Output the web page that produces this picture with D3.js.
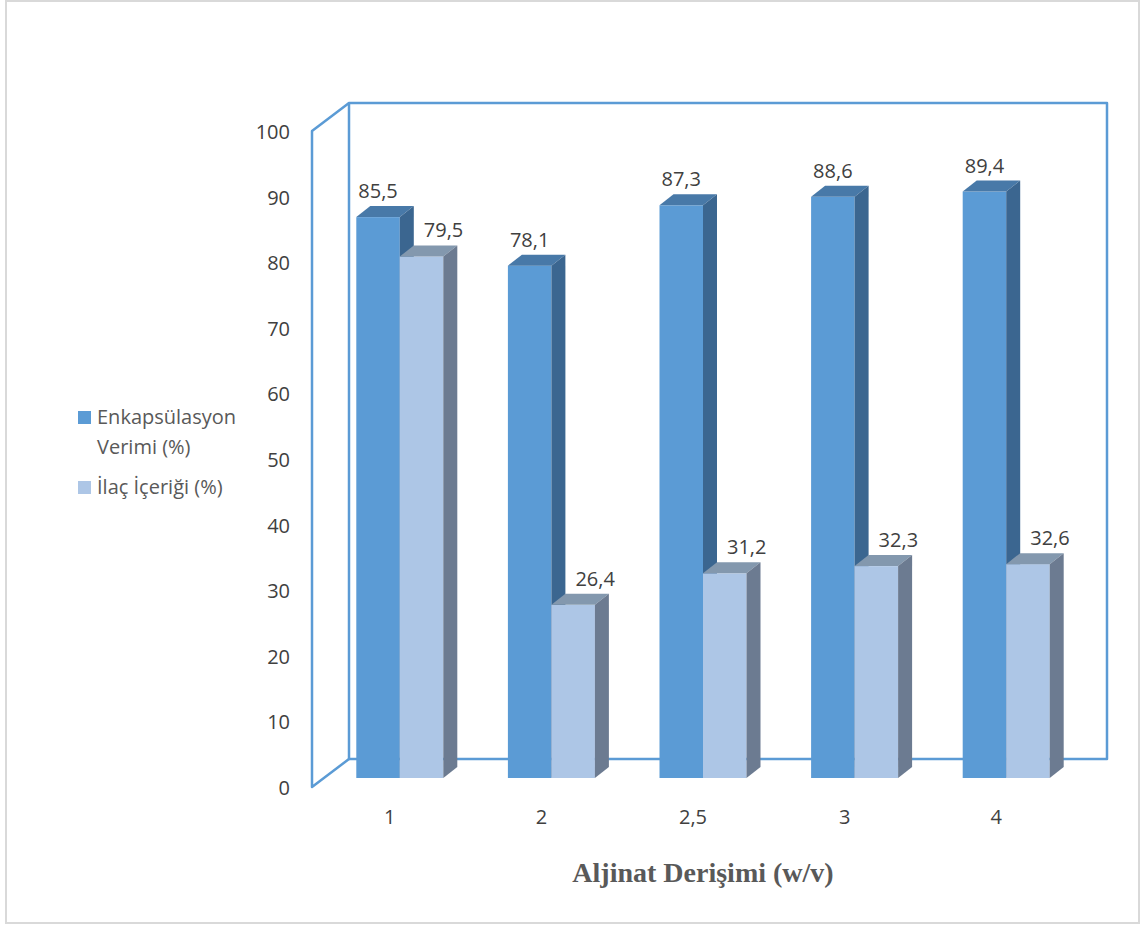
<!DOCTYPE html>
<html>
<head>
<meta charset="utf-8">
<script src="https://cdn.jsdelivr.net/npm/d3@7"></script>
<style>
  body { margin: 0; background: #fff; }
  svg text { font-family: "Open Sans", "DejaVu Sans", sans-serif; }
</style>
</head>
<body>
<div id="chart"></div>
<script>
// data
const categories = ["1", "2", "2,5", "3", "4"]
const enkapsulasyon = [85.5, 78.1, 87.3, 88.6, 89.4]   // Enkapsülasyon Verimi (%)
const ilacIcerigi = [79.5, 26.4, 31.2, 32.3, 32.6]     // İlaç İçeriği (%)
const yTicks = [0, 10, 20, 30, 40, 50, 60, 70, 80, 90, 100]
const seriesNames = ["Enkapsülasyon\nVerimi (%)", "İlaç İçeriği (%)"]
const xTitle = "Aljinat Derişimi (w/v)"

const width = 1147
const height = 927
const fontSize = 20

// back wall of the 3d box
const backLeft = 349
const backRight = 1107
const backZero = 759
const backTop = 103
// offsets of the front plane and the bar plane from the back wall
const frontDx = -37, frontDy = 28
const barDx = -25, barDy = 19
const barWidth = 43.5
const depthDx = 14, depthDy = -11   // bar thickness

const palette = [
    {front: "#5b9bd5", top: "#4879a8", side: "#3b6690"},
    {front: "#adc6e6", top: "#8398ae", side: "#6c7b91"}
]
const wallColor = "#5b9bd5"
const textColor = "#404040"

const svg = d3.select("#chart")
    .append("svg")
    .attr("width", width)
    .attr("height", height)
    .attr("viewBox", [0, 0, width, height])

// outer frame
svg.append("rect")
    .attr("x", 6).attr("y", 1)
    .attr("width", 1133).attr("height", 922)
    .attr("fill", "none")
    .attr("stroke", "#d9d9d9")
    .attr("stroke-width", 2)

// scales
const yBack = d3.scaleLinear([0, 100], [backZero, backTop])
const yFront = d3.scaleLinear([0, 100], [backZero + frontDy, backTop + frontDy])
const yBar = d3.scaleLinear([0, 100], [backZero + barDy, backTop + barDy])
const xBar = d3.scaleBand(categories, [backLeft + barDx, backRight + barDx])
const xFront = d3.scaleBand(categories, [backLeft + frontDx, backRight + frontDx])

// walls
const walls = svg.append("g")
    .attr("fill", "none")
    .attr("stroke", wallColor)
    .attr("stroke-width", 2.5)
    .attr("stroke-linejoin", "round")

walls.append("rect")
    .attr("x", backLeft).attr("y", yBack(100))
    .attr("width", backRight - backLeft)
    .attr("height", yBack(0) - yBack(100))

walls.append("path")
    .attr("d", d3.line()([
        [backLeft, yBack(100)],
        [backLeft + frontDx, yFront(100)],
        [backLeft + frontDx, yFront(0)],
        [backLeft, yBack(0)]
    ]))

// y axis
svg.append("g")
    .attr("transform", `translate(${backLeft + frontDx - 19},1)`)
    .call(d3.axisLeft(yFront).tickValues(yTicks).tickSize(0).tickFormat(d3.format("d")))
    .call(g => g.select(".domain").remove())
    .call(g => g.selectAll("text")
        .attr("fill", textColor)
        .attr("font-size", fontSize)
        .attr("font-family", "'Open Sans', sans-serif"))

// x axis
svg.append("g")
    .attr("transform", `translate(2,${yFront(0) + 20})`)
    .call(d3.axisBottom(xFront).tickSize(0))
    .call(g => g.select(".domain").remove())
    .call(g => g.selectAll("text")
        .attr("fill", textColor)
        .attr("font-size", fontSize)
        .attr("font-family", "'Open Sans', sans-serif"))

svg.append("text")
    .attr("x", (xFront.range()[0] + xFront.range()[1]) / 2 + 12)
    .attr("y", 882)
    .attr("text-anchor", "middle")
    .attr("fill", "#595959")
    .attr("font-size", 28)
    .attr("font-weight", "bold")
    .style("font-family", "'Liberation Serif', 'Times New Roman', serif")
    .text(xTitle)

// bars
const bars = []
categories.forEach((c, i) => {
    const center = xBar(c) + xBar.bandwidth() / 2
    bars.push({s: 0, x0: center - barWidth, x1: center, v: enkapsulasyon[i]})
    bars.push({s: 1, x0: center, x1: center + barWidth, v: ilacIcerigi[i]})
})

const barG = svg.append("g")
    .selectAll("g")
    .data(bars)
    .join("g")

barG.append("rect")
    .attr("x", d => d.x0)
    .attr("y", d => yBar(d.v))
    .attr("width", d => d.x1 - d.x0)
    .attr("height", d => yBar(0) - yBar(d.v))
    .attr("fill", d => palette[d.s].front)

barG.append("path")
    .attr("d", d => d3.line()([
        [d.x0, yBar(d.v)],
        [d.x0 + depthDx, yBar(d.v) + depthDy],
        [d.x1 + depthDx, yBar(d.v) + depthDy],
        [d.x1, yBar(d.v)]
    ]) + "Z")
    .attr("fill", d => palette[d.s].top)

barG.append("path")
    .attr("d", d => d3.line()([
        [d.x1, yBar(d.v)],
        [d.x1 + depthDx, yBar(d.v) + depthDy],
        [d.x1 + depthDx, yBar(0) + depthDy],
        [d.x1, yBar(0)]
    ]) + "Z")
    .attr("fill", d => palette[d.s].side)

// data labels
const fmt = v => d3.format(".1f")(v).replace(".", ",")
barG.append("text")
    .attr("x", d => (d.x0 + d.x1) / 2 + (d.s === 0 ? 0 : 22))
    .attr("y", d => yBar(d.v) + depthDy - 8)
    .attr("text-anchor", "middle")
    .attr("fill", textColor)
    .attr("font-size", fontSize)
    .text(d => fmt(d.v))

// legend
const legend = svg.append("g")
    .attr("transform", "translate(78,0)")

const legendItems = [
    {s: 0, y: 417, lines: seriesNames[0].split("\n")},
    {s: 1, y: 487, lines: seriesNames[1].split("\n")}
]

legendItems.forEach(item => {
    legend.append("rect")
        .attr("x", 0)
        .attr("y", item.y - 6)
        .attr("width", 13)
        .attr("height", 13)
        .attr("fill", palette[item.s].front)
    item.lines.forEach((line, j) => {
        legend.append("text")
            .attr("x", 19)
            .attr("y", item.y + 7 + j * 30)
            .attr("fill", "#595959")
            .attr("font-size", fontSize)
            .text(line)
    })
})
</script>
</body>
</html>
